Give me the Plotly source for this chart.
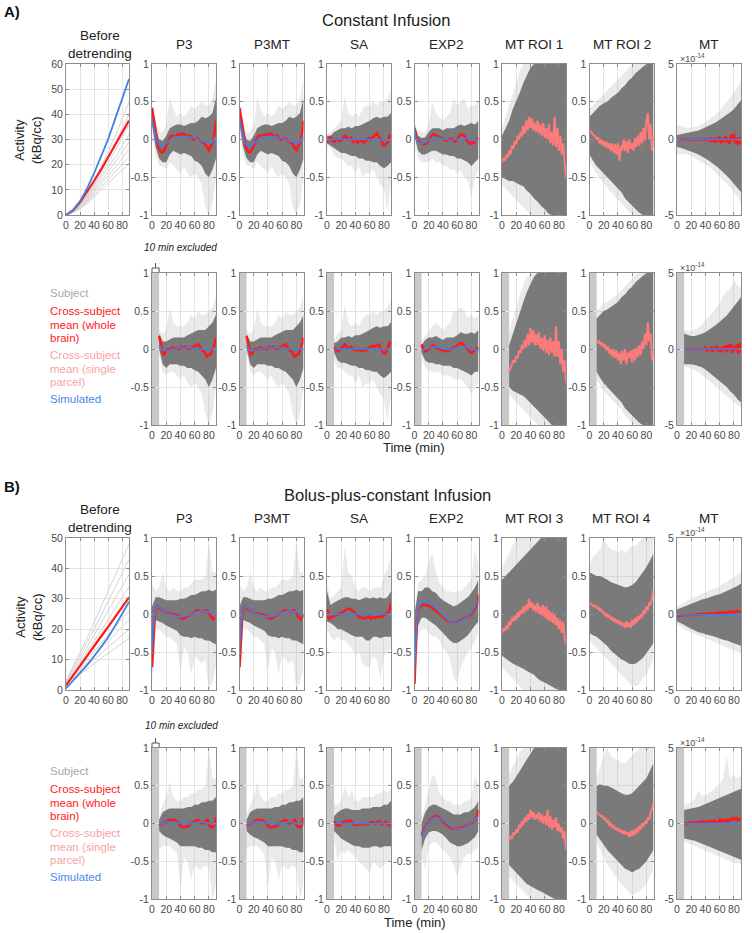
import plotly.graph_objects as go

W, H = 752, 933

# ---------------- time grids ----------------
T_FULL = [0, 5, 10, 15, 20, 25, 30, 35, 40, 45, 50, 55, 60, 65, 70, 75, 80, 85, 90]
T_CUT = [10, 15, 20, 25, 30, 35, 40, 45, 50, 55, 60, 65, 70, 75, 80, 85, 90]
T2_FULL = list(range(0, 91, 2))
T2_CUT = list(range(10, 91, 2))
T3_FULL = list(range(0, 91, 3))

# ---------------- Before detrending ----------------
A_BD_T = [0, 15, 30, 45, 60, 75, 90]
A_BD_SUBJECTS = [
    [0, 1.5, 4.5, 8.5, 12.5, 16.5, 20.5],
    [0, 1.6, 5, 9.5, 14, 18.5, 23],
    [0, 1.8, 5.5, 10.5, 15.5, 20.5, 26],
    [0, 2, 6, 11.5, 17, 23, 29],
    [0, 2, 6.5, 12.5, 18.5, 25, 32],
    [0, 2.2, 7, 13.5, 20.5, 28, 36],
    [0, 2.4, 7.5, 14.5, 22.5, 31, 40],
    [0, 2.6, 8, 16, 25, 34.5, 45],
]
A_BD_T10 = [0, 10, 20, 30, 40, 50, 60, 70, 80, 90]
A_BD_RED = [0, 1.8, 5, 9, 13.5, 18, 23, 28, 33, 37.5]
A_BD_BLUE = [0, 2, 5.5, 10.5, 16.5, 23, 30, 38, 46, 54]

B_BD_T = [0, 30, 60, 90]
B_BD_SUBJECTS = [
    [1, 7, 12, 17],
    [1.5, 8, 14, 20],
    [1.5, 9, 16, 23],
    [2, 10, 18, 26],
    [2, 11, 20.5, 30],
    [2.5, 12.5, 23, 34],
    [2.5, 14, 26, 38],
    [3, 15.5, 29, 43],
    [3, 17, 32.5, 48],
]
B_BD_T10 = [0, 10, 20, 30, 40, 50, 60, 70, 80, 90]
B_BD_RED = [1.5, 4.8, 8, 11.3, 14.5, 17.6, 20.7, 24, 27.2, 30.5]
B_BD_BLUE = [0.5, 3, 5.5, 8.2, 11, 14, 17.3, 21, 25, 29]

# ---------------- Panel A, row 1 ----------------
A1_P3_IN_HI = [0.40, 0.15, 0.00, -0.02, 0.05, 0.15, 0.18, 0.20, 0.20, 0.18, 0.20, 0.22, 0.22, 0.25, 0.30, 0.28, 0.30, 0.35, 0.55]
A1_P3_IN_LO = [0.20, -0.10, -0.25, -0.30, -0.30, -0.20, -0.15, -0.18, -0.20, -0.18, -0.20, -0.22, -0.28, -0.30, -0.35, -0.45, -0.50, -0.40, -0.25]
A1_P3_OUT_HI = [0.45, 0.25, 0.10, 0.10, 0.20, 0.55, 0.40, 0.30, 0.35, 0.30, 0.35, 0.45, 0.40, 0.45, 0.50, 0.45, 0.45, 0.55, 0.80]
A1_P3_OUT_LO = [0.10, -0.20, -0.35, -0.35, -0.40, -0.30, -0.35, -0.40, -0.45, -0.35, -0.45, -0.50, -0.45, -0.50, -0.60, -0.90, -1.00, -0.85, -0.50]
A1_P3_RED_T = [0, 2, 4, 6, 8, 10, 12, 14, 16, 18, 20, 23, 26, 29, 32, 35, 38, 41, 44, 47, 50, 53, 56, 59, 62, 65, 68, 71, 74, 77, 80, 83, 86, 88, 90]
A1_P3_RED = [0.42, 0.30, 0.15, 0.03, -0.06, -0.12, -0.16, -0.17, -0.16, -0.12, -0.08,
             -0.02, 0.04, 0.05, 0.04, 0.06, 0.07, 0.05, 0.08, 0.06, 0.04,
             0.05, 0.03, 0.00, 0.02, 0.01, -0.02, -0.03, -0.05, -0.10, -0.14,
             -0.08, -0.03, 0.08, 0.25]
A1_P3_BLUE_T = [0, 3, 6, 10, 14, 18, 22, 26, 30, 40, 50, 60, 70, 80, 85, 90]
A1_P3_BLUE = [0.27, 0.12, 0.00, -0.07, -0.09, -0.07, -0.03, 0.00, 0.03, 0.04, 0.04, 0.02, -0.02, -0.05, -0.04, 0.05]

A1_SA_IN_HI = [0.05, 0.05, 0.10, 0.12, 0.15, 0.15, 0.17, 0.15, 0.18, 0.18, 0.20, 0.22, 0.25, 0.28, 0.30, 0.28, 0.30, 0.30, 0.35]
A1_SA_IN_LO = [-0.05, -0.08, -0.12, -0.15, -0.18, -0.18, -0.20, -0.22, -0.22, -0.25, -0.25, -0.28, -0.28, -0.30, -0.30, -0.35, -0.38, -0.35, -0.30]
A1_SA_OUT_HI = [0.08, 0.10, 0.15, 0.20, 0.25, 0.58, 0.35, 0.30, 0.35, 0.30, 0.40, 0.45, 0.45, 0.50, 0.45, 0.50, 0.50, 0.55, 0.65]
A1_SA_OUT_LO = [-0.08, -0.12, -0.20, -0.25, -0.25, -0.30, -0.35, -0.35, -0.45, -0.35, -0.50, -0.45, -0.45, -0.40, -0.50, -0.60, -0.65, -0.95, -0.60]
A1_SA_RED_T = [0, 2, 4, 6, 8, 10, 14, 18, 22, 25, 28, 31, 34, 37, 40, 43, 46, 49, 52, 55, 58, 61, 64, 67, 70, 73, 76, 78, 80, 83, 86, 88, 90]
A1_SA_RED = [-0.04, 0.00, 0.03, 0.02, -0.02, -0.03,
             0.00, -0.02, 0.00, 0.05, 0.02,
             0.00, 0.02, -0.03, 0.00, -0.04, -0.02, -0.01,
             -0.04, -0.01, 0.02, 0.00, 0.03, 0.06, 0.08,
             0.03, 0.00, -0.06, -0.08, -0.06, -0.03, 0.05, 0.04]
A1_SA_BLUE_T = [0, 30, 60, 90]
A1_SA_BLUE = [0.0, 0.0, 0.0, -0.01]

A1_EXP2_IN_HI = [0.20, 0.05, 0.02, 0.03, 0.10, 0.15, 0.15, 0.15, 0.12, 0.15, 0.15, 0.15, 0.18, 0.20, 0.18, 0.20, 0.22, 0.20, 0.25]
A1_EXP2_IN_LO = [0.05, -0.15, -0.20, -0.20, -0.18, -0.15, -0.15, -0.18, -0.20, -0.20, -0.22, -0.22, -0.25, -0.25, -0.28, -0.30, -0.35, -0.30, -0.25]
A1_EXP2_OUT_HI = [0.25, 0.10, 0.10, 0.10, 0.20, 0.50, 0.35, 0.30, 0.25, 0.30, 0.35, 0.55, 0.45, 0.50, 0.55, 0.40, 0.45, 0.45, 0.50]
A1_EXP2_OUT_LO = [0.00, -0.25, -0.30, -0.30, -0.30, -0.25, -0.30, -0.30, -0.35, -0.35, -0.40, -0.40, -0.45, -0.40, -0.50, -0.55, -0.75, -0.50, -0.40]
A1_EXP2_RED_T = [0, 2, 5, 8, 12, 15, 18, 21, 24, 27, 30, 33, 36, 39, 42, 45, 48, 51, 54, 57, 60, 63, 66, 69, 72, 75, 78, 81, 84, 87, 90]
A1_EXP2_RED = [0.15, 0.05, -0.02, -0.04, -0.06, -0.06,
               -0.04, 0.00, 0.05, 0.07, 0.05, 0.04, 0.03, 0.02, 0.00, -0.02, -0.01, 0.01, 0.00,
               -0.03, 0.00, 0.05, 0.07, 0.06, 0.02, -0.03, -0.06, -0.04, -0.05, 0.00, 0.02]
A1_EXP2_BLUE_T = [0, 2, 5, 10, 15, 20, 25, 30, 40, 50, 60, 70, 80, 90]
A1_EXP2_BLUE = [0.15, 0.02, -0.04, -0.05, -0.04, -0.01, 0.02, 0.03, 0.01, -0.01, 0.00, 0.02, 0.00, -0.03]

A1_ROI1_IN_HI = [0.05, 0.15, 0.25, 0.40, 0.50, 0.62, 0.75, 0.85, 0.95, 1, 1, 1, 1, 1, 1, 1, 1, 1, 1]
A1_ROI1_IN_LO = [-0.50, -0.52, -0.55, -0.55, -0.58, -0.60, -0.62, -0.68, -0.72, -0.78, -0.82, -0.88, -0.92, -0.98, -1, -1, -1, -1, -1]
A1_ROI1_OUT_HI = [0.15, 0.30, 0.45, 0.60, 0.75, 0.90, 1, 1, 1, 1, 1, 1, 1, 1, 1, 1, 1, 1, 1]
A1_ROI1_OUT_LO = [-0.60, -0.65, -0.70, -0.75, -0.80, -0.85, -0.90, -0.95, -1, -1, -1, -1, -1, -1, -1, -1, -1, -1, -1]
A1_ROI1_PINK = [-0.30, -0.25, -0.28, -0.20, -0.24, -0.15, -0.20, -0.08, -0.12, -0.02,
                -0.06, 0.05, 0.00, 0.10, 0.04, 0.18, 0.08, 0.25, 0.12, 0.30,
                0.15, 0.28, 0.12, 0.22, 0.10, 0.25, 0.08, 0.20, 0.05, 0.22,
                0.02, 0.15, 0.00, 0.20, -0.05, 0.10, -0.08, 0.30, -0.10, 0.15,
                -0.15, 0.05, -0.20, -0.05, -0.30, -0.50]

A1_ROI2_IN_HI = [0.30, 0.35, 0.40, 0.45, 0.48, 0.50, 0.55, 0.58, 0.62, 0.68, 0.72, 0.78, 0.82, 0.88, 0.92, 0.96, 1, 1, 1]
A1_ROI2_IN_LO = [-0.20, -0.28, -0.35, -0.40, -0.45, -0.50, -0.55, -0.60, -0.65, -0.70, -0.78, -0.82, -0.88, -0.92, -0.97, -1, -1, -1, -1]
A1_ROI2_OUT_HI = [0.40, 0.45, 0.50, 0.55, 0.60, 0.65, 0.70, 0.75, 0.80, 0.85, 0.90, 0.95, 1, 1, 1, 1, 1, 1, 1]
A1_ROI2_OUT_LO = [-0.30, -0.38, -0.45, -0.52, -0.58, -0.64, -0.70, -0.75, -0.80, -0.85, -0.90, -0.95, -1, -1, -1, -1, -1, -1, -1]
A1_ROI2_PINK = [0.12, 0.10, 0.08, 0.05, 0.04, 0.00, 0.03, -0.05, 0.00, -0.08,
                -0.02, -0.10, -0.03, -0.12, -0.05, -0.15, -0.05, -0.18, -0.06, -0.20,
                -0.05, -0.28, -0.08, -0.15, 0.00, -0.15, -0.02, -0.18, 0.00, -0.12,
                -0.05, -0.15, 0.02, -0.10, 0.05, -0.08, 0.10, -0.05, 0.15, -0.02,
                0.25, 0.35, 0.00, 0.20, -0.15, 0.05]

A1_MT_IN_HI = [0.3, 0.35, 0.4, 0.45, 0.5, 0.55, 0.6, 0.7, 0.8, 0.9, 1.0, 1.15, 1.3, 1.45, 1.6, 1.8, 2.0, 2.3, 2.6]
A1_MT_IN_LO = [-0.5, -0.55, -0.6, -0.7, -0.8, -0.9, -1.0, -1.1, -1.25, -1.4, -1.55, -1.75, -1.95, -2.15, -2.4, -2.65, -2.9, -3.2, -3.5]
A1_MT_OUT_HI = [1.0, 0.9, 0.8, 0.75, 0.8, 0.85, 0.9, 1.0, 1.15, 1.3, 1.5, 1.7, 1.9, 2.2, 2.5, 2.8, 3.1, 3.5, 3.8]
A1_MT_OUT_LO = [-1.0, -0.95, -0.95, -1.0, -1.1, -1.2, -1.35, -1.5, -1.65, -1.8, -2.0, -2.2, -2.45, -2.7, -2.95, -3.2, -3.5, -3.8, -4.2]
A1_MT_RED = [0.0, 0.01, -0.01, 0.0, 0.01, -0.01, 0.0, 0.02, -0.01, 0.0, 0.01, -0.02, 0.0, 0.02, -0.01, 0.0, 0.02, -0.02, 0.01, 0.0, -0.03, 0.02, 0.0,
             -0.1, 0.1, -0.15, 0.05, -0.2, 0.1, -0.1, 0.2, -0.25, 0.05, -0.15, 0.25, -0.2, 0.1, -0.3, 0.3, -0.1, 0.4, -0.25, 0.1, -0.35, 0.15, -0.3]
A1_MT_BLUE_T = [0, 90]
A1_MT_BLUE = [0.0, 0.0]

# ---------------- Panel A, row 2 (first 10 min excluded) ----------------
A2_P3_IN_HI = [0.20, 0.10, 0.10, 0.12, 0.15, 0.15, 0.15, 0.15, 0.18, 0.20, 0.22, 0.25, 0.25, 0.25, 0.30, 0.35, 0.45]
A2_P3_IN_LO = [0.00, -0.20, -0.25, -0.20, -0.20, -0.20, -0.22, -0.22, -0.25, -0.25, -0.28, -0.30, -0.35, -0.40, -0.50, -0.40, -0.25]
A2_P3_OUT_HI = [0.25, 0.20, 0.25, 0.55, 0.35, 0.30, 0.30, 0.30, 0.35, 0.45, 0.40, 0.50, 0.45, 0.45, 0.50, 0.55, 0.70]
A2_P3_OUT_LO = [-0.05, -0.30, -0.35, -0.30, -0.30, -0.35, -0.40, -0.35, -0.45, -0.50, -0.45, -0.50, -0.60, -0.85, -1.00, -0.85, -0.50]
A2_P3_RED_T = [10, 12, 14, 16, 18, 20, 23, 26, 29, 32, 35, 38, 41, 44, 47, 50, 53, 56, 59, 62, 65, 68, 71, 74, 77, 80, 83, 86, 88, 90]
A2_P3_RED = [0.17, 0.08, -0.03, -0.08, -0.06, -0.02,
             0.00, -0.01, 0.02, 0.00, 0.02, 0.00, 0.03, 0.02, 0.03, 0.01, 0.00, 0.02, 0.03, 0.05, 0.06, 0.02,
             -0.02, -0.04, -0.10, -0.08, -0.06, 0.02, 0.06, 0.15]
A2_P3_BLUE_T = [10, 13, 16, 20, 30, 40, 50, 60, 70, 80, 90]
A2_P3_BLUE = [0.05, 0.00, -0.02, -0.02, 0.00, 0.02, 0.02, 0.01, 0.00, -0.01, 0.02]

A2_SA_IN_HI = [0.08, 0.10, 0.15, 0.15, 0.17, 0.15, 0.18, 0.18, 0.20, 0.22, 0.25, 0.28, 0.30, 0.28, 0.30, 0.30, 0.35]
A2_SA_IN_LO = [-0.05, -0.15, -0.18, -0.18, -0.20, -0.22, -0.22, -0.25, -0.25, -0.28, -0.28, -0.30, -0.30, -0.35, -0.38, -0.35, -0.30]
A2_SA_OUT_HI = [0.12, 0.20, 0.25, 0.58, 0.35, 0.30, 0.35, 0.30, 0.40, 0.45, 0.45, 0.50, 0.45, 0.50, 0.50, 0.55, 0.65]
A2_SA_OUT_LO = [-0.15, -0.25, -0.25, -0.30, -0.35, -0.35, -0.45, -0.35, -0.50, -0.45, -0.45, -0.40, -0.50, -0.60, -0.65, -0.95, -0.60]
A2_SA_RED_T = [10, 13, 16, 19, 22, 25, 28, 31, 34, 37, 40, 43, 46, 49, 52, 55, 58, 61, 64, 67, 70, 73, 76, 79, 82, 85, 88, 90]
A2_SA_RED = [0.02, -0.02, -0.03, 0.00, 0.02, 0.06, 0.03, 0.01, 0.03, -0.01, 0.00, -0.02, 0.00, -0.03,
             -0.01, -0.02, 0.01, 0.02, 0.04, 0.03, 0.05, 0.06, 0.00, -0.05, -0.06, 0.00, 0.08, 0.06]
A2_SA_BLUE_T = [10, 50, 90]
A2_SA_BLUE = [0.0, 0.0, 0.0]

A2_EXP2_IN_HI = [0.05, 0.12, 0.15, 0.15, 0.17, 0.15, 0.12, 0.15, 0.15, 0.15, 0.18, 0.22, 0.20, 0.20, 0.22, 0.20, 0.25]
A2_EXP2_IN_LO = [-0.05, -0.15, -0.18, -0.18, -0.20, -0.20, -0.22, -0.22, -0.22, -0.25, -0.25, -0.28, -0.30, -0.32, -0.35, -0.30, -0.30]
A2_EXP2_OUT_HI = [0.10, 0.18, 0.25, 0.30, 0.35, 0.30, 0.25, 0.30, 0.35, 0.50, 0.50, 0.55, 0.50, 0.40, 0.45, 0.40, 0.45]
A2_EXP2_OUT_LO = [-0.10, -0.25, -0.28, -0.30, -0.30, -0.30, -0.35, -0.35, -0.35, -0.40, -0.40, -0.40, -0.45, -0.50, -0.60, -0.50, -0.45]
A2_EXP2_RED_T = [10, 12, 15, 18, 21, 24, 27, 30, 33, 36, 39, 42, 45, 48, 51, 54, 57, 60, 63, 66, 69, 72, 75, 78, 81, 84, 87, 90]
A2_EXP2_RED = [0.06, 0.00, -0.03, -0.02, 0.00, 0.04, 0.05, 0.02, 0.01, 0.00, -0.01, -0.03, -0.02, -0.03,
               0.00, 0.01, 0.02, 0.04, 0.07, 0.08, 0.05, 0.03, 0.00, -0.04, -0.05, -0.02, 0.00, 0.02]
A2_EXP2_BLUE_T = [10, 15, 20, 25, 30, 40, 50, 60, 70, 80, 90]
A2_EXP2_BLUE = [-0.02, 0.00, 0.02, 0.03, 0.03, 0.00, -0.01, 0.02, 0.03, 0.00, -0.03]

A2_ROI1_IN_HI = [0.05, 0.20, 0.35, 0.50, 0.62, 0.75, 0.85, 0.95, 1, 1, 1, 1, 1, 1, 1, 1, 1]
A2_ROI1_IN_LO = [-0.50, -0.55, -0.58, -0.60, -0.62, -0.66, -0.70, -0.75, -0.80, -0.85, -0.90, -0.95, -1, -1, -1, -1, -1]
A2_ROI1_OUT_HI = [0.20, 0.40, 0.55, 0.70, 0.85, 0.95, 1, 1, 1, 1, 1, 1, 1, 1, 1, 1, 1]
A2_ROI1_OUT_LO = [-0.60, -0.65, -0.70, -0.75, -0.80, -0.85, -0.90, -0.95, -1, -1, -1, -1, -1, -1, -1, -1, -1]
A2_ROI1_PINK = [-0.30, -0.25, -0.22, -0.15, -0.18, -0.10, -0.12, -0.02, -0.05, 0.05,
                0.00, 0.12, 0.02, 0.20, 0.05, 0.28, 0.08, 0.25, 0.05, 0.20,
                0.05, 0.22, 0.00, 0.15, -0.02, 0.18, -0.05, 0.12, -0.08, 0.15,
                -0.05, 0.10, -0.10, 0.30, -0.10, 0.10, -0.20, 0.00, -0.30, -0.15,
                -0.45]

A2_ROI2_IN_HI = [0.40, 0.45, 0.50, 0.52, 0.55, 0.58, 0.62, 0.68, 0.72, 0.78, 0.82, 0.88, 0.92, 0.96, 1, 1, 1]
A2_ROI2_IN_LO = [-0.30, -0.38, -0.45, -0.50, -0.55, -0.60, -0.65, -0.70, -0.78, -0.82, -0.88, -0.92, -0.97, -1, -1, -1, -1]
A2_ROI2_OUT_HI = [0.50, 0.55, 0.60, 0.62, 0.65, 0.68, 0.72, 0.78, 0.82, 0.88, 0.92, 0.98, 1, 1, 1, 1, 1]
A2_ROI2_OUT_LO = [-0.40, -0.48, -0.55, -0.60, -0.65, -0.70, -0.75, -0.80, -0.88, -0.92, -0.98, -1, -1, -1, -1, -1, -1]
A2_ROI2_PINK = [0.10, 0.08, 0.10, 0.05, 0.08, 0.02, 0.06, -0.02, 0.03, -0.06,
                0.00, -0.10, 0.00, -0.12, -0.02, -0.15, -0.05, -0.20, -0.02, -0.15,
                0.00, -0.20, -0.05, -0.12, -0.02, -0.18, 0.00, -0.15, 0.02, -0.10,
                0.05, -0.08, 0.10, 0.00, 0.20, 0.05, 0.35, 0.10, 0.20, -0.15,
                0.00]

A2_MT_IN_HI = [1.0, 0.9, 0.85, 0.85, 0.9, 1.0, 1.1, 1.25, 1.4, 1.6, 1.8, 2.0, 2.2, 2.5, 2.8, 3.1, 3.4]
A2_MT_IN_LO = [-1.0, -1.0, -1.0, -1.05, -1.1, -1.2, -1.35, -1.5, -1.7, -1.9, -2.1, -2.3, -2.5, -2.8, -3.0, -3.3, -3.5]
A2_MT_OUT_HI = [1.2, 1.2, 1.2, 1.3, 1.4, 1.6, 1.9, 2.1, 2.4, 2.7, 3.0, 3.5, 3.8, 4.0, 4.5, 4.2, 4.0]
A2_MT_OUT_LO = [-1.2, -1.2, -1.3, -1.4, -1.5, -1.7, -1.9, -2.1, -2.3, -2.5, -2.7, -2.9, -3.1, -3.3, -3.5, -3.7, -3.8]
A2_MT_RED = [0.0, 0.02, -0.01, 0.0, 0.02, -0.02, 0.01, 0.0, -0.02, 0.02, 0.0, -0.01, 0.03, -0.02, 0.01,
             0.1, -0.15, 0.05, -0.1, 0.15, -0.2, 0.1, -0.05, 0.2, -0.15, 0.1, -0.2, 0.15, -0.1, 0.25, -0.2,
             0.3, -0.1, 0.35, -0.25, 0.2, -0.1, 0.3, -0.3, 0.4, -0.2]
A2_MT_BLUE_T = [10, 90]
A2_MT_BLUE = [0.0, 0.0]

# ---------------- Panel B, row 1 ----------------
B1_P3_IN_HI = [0.10, 0.22, 0.22, 0.20, 0.18, 0.18, 0.18, 0.18, 0.20, 0.20, 0.22, 0.25, 0.25, 0.28, 0.30, 0.30, 0.32, 0.30, 0.32]
B1_P3_IN_LO = [-0.50, -0.08, -0.10, -0.12, -0.15, -0.18, -0.20, -0.22, -0.28, -0.30, -0.30, -0.32, -0.30, -0.32, -0.32, -0.35, -0.35, -0.38, -0.40]
B1_P3_OUT_HI = [0.40, 0.30, 0.35, 0.55, 0.35, 0.30, 0.35, 0.30, 0.30, 0.35, 0.35, 0.40, 0.45, 0.45, 0.45, 0.50, 0.95, 0.55, 0.55]
B1_P3_OUT_LO = [-0.95, -0.20, -0.20, -0.25, -0.30, -0.30, -0.35, -0.40, -0.75, -0.45, -0.50, -0.80, -0.55, -0.60, -0.65, -0.60, -1.00, -0.90, -0.70]
B1_P3_RED_T = [0, 1, 2, 3, 4, 6, 8, 10, 13, 16, 20, 24, 28, 32, 36, 40, 44, 48, 52, 56, 60, 64, 68, 72, 76, 80, 83, 86, 88, 90]
B1_P3_RED = [-0.70, -0.55, -0.30, -0.10, 0.00, 0.08, 0.10, 0.08,
             0.06, 0.04,
             0.02, 0.01, 0.00, 0.00, -0.02, -0.05, -0.06, -0.04, -0.02, 0.00, 0.03, 0.05, 0.04, 0.03, 0.05, 0.02,
             -0.04, -0.07, -0.04, 0.00]
B1_P3_BLUE_T = [0, 1, 2, 4, 7, 10, 15, 20, 30, 40, 50, 60, 70, 80, 90]
B1_P3_BLUE = [-0.48, -0.30, -0.15, 0.02, 0.10, 0.09, 0.05, 0.02, -0.02, -0.04, -0.02, 0.02, 0.04, 0.03, -0.04]

B1_SA_IN_HI = [0.30, 0.12, 0.15, 0.18, 0.20, 0.22, 0.22, 0.20, 0.20, 0.18, 0.20, 0.22, 0.20, 0.22, 0.20, 0.22, 0.20, 0.22, 0.30]
B1_SA_IN_LO = [-0.10, -0.12, -0.15, -0.20, -0.20, -0.22, -0.25, -0.28, -0.30, -0.30, -0.30, -0.35, -0.35, -0.30, -0.30, -0.32, -0.30, -0.30, -0.30]
B1_SA_OUT_HI = [0.40, 0.20, 0.25, 0.30, 0.35, 0.90, 0.55, 0.50, 0.35, 0.30, 0.35, 0.35, 0.30, 0.35, 0.35, 0.35, 0.50, 0.60, 0.75]
B1_SA_OUT_LO = [-0.20, -0.30, -0.35, -0.30, -0.35, -0.35, -0.40, -0.45, -0.55, -0.50, -0.65, -0.70, -0.70, -0.55, -0.60, -0.85, -0.55, -0.50, -0.45]
B1_SA_RED_T = [0, 1, 2, 3, 5, 8, 11, 14, 17, 20, 23, 26, 29, 32, 35, 38, 41, 44, 47, 50, 53, 56, 59, 62, 65, 68, 71, 74, 77, 80, 83, 86, 88, 90]
B1_SA_RED = [-0.05, 0.06, -0.02, -0.06, -0.05,
             -0.03, -0.02, -0.01, 0.00, 0.01, 0.03, 0.05, 0.07, 0.07, 0.05, 0.02, 0.00, -0.03, -0.05,
             -0.05, -0.06, -0.04, -0.03, -0.06, -0.04, -0.05, -0.04, -0.03, -0.04, -0.02, 0.00, 0.03,
             0.05, 0.15]
B1_SA_BLUE_T = [0, 30, 60, 90]
B1_SA_BLUE = [-0.01, 0.0, 0.0, 0.0]

B1_EXP2_IN_HI = [0.00, 0.30, 0.30, 0.35, 0.35, 0.30, 0.28, 0.22, 0.18, 0.15, 0.12, 0.10, 0.12, 0.15, 0.18, 0.22, 0.28, 0.35, 0.45]
B1_EXP2_IN_LO = [-0.85, -0.15, -0.05, -0.05, -0.08, -0.12, -0.15, -0.20, -0.25, -0.30, -0.35, -0.38, -0.38, -0.35, -0.32, -0.28, -0.22, -0.15, -0.10]
B1_EXP2_OUT_HI = [0.05, 0.40, 0.45, 0.50, 0.70, 0.80, 0.55, 0.40, 0.35, 0.30, 0.30, 0.28, 0.30, 0.30, 0.35, 0.40, 0.45, 0.85, 0.65]
B1_EXP2_OUT_LO = [-0.95, -0.30, -0.20, -0.20, -0.25, -0.30, -0.30, -0.35, -0.45, -0.50, -0.60, -0.85, -0.90, -0.70, -0.60, -0.50, -0.45, -0.35, -0.25]
B1_EXP2_RED_T = [0, 1, 2, 3, 4, 6, 8, 10, 13, 16, 20, 24, 28, 32, 36, 40, 44, 48, 52, 56, 60, 64, 68, 72, 76, 80, 83, 86, 88, 90]
B1_EXP2_RED = [-0.92, -0.60, -0.30, -0.12, -0.02, 0.07, 0.10, 0.12,
               0.12, 0.12,
               0.11, 0.09, 0.06, 0.03, 0.00, -0.04, -0.07, -0.10, -0.11, -0.12, -0.11, -0.09, -0.08, -0.06, -0.03, 0.00,
               0.04, 0.08, 0.12, 0.25]
B1_EXP2_BLUE_T = [0, 1, 2, 3, 5, 8, 11, 15, 20, 25, 30, 35, 40, 45, 50, 55, 60, 65, 70, 75, 80, 85, 90]
B1_EXP2_BLUE = [-0.75, -0.45, -0.25, -0.10, 0.05, 0.13, 0.16,
                0.17, 0.15, 0.12, 0.08, 0.03, -0.02, -0.06, -0.10, -0.12, -0.12, -0.10, -0.07, -0.03, 0.02, 0.10, 0.20]

B1_ROI3_IN_HI = [0.45, 0.50, 0.55, 0.60, 0.65, 0.70, 0.75, 0.80, 0.85, 0.90, 0.95, 1, 1, 1, 1, 1, 1, 1, 1]
B1_ROI3_IN_LO = [-0.55, -0.58, -0.62, -0.65, -0.68, -0.70, -0.72, -0.75, -0.78, -0.80, -0.85, -0.88, -0.90, -0.92, -0.95, -0.98, -1, -1, -1]
B1_ROI3_OUT_HI = [0.60, 0.70, 0.80, 0.90, 1, 1, 1, 1, 1, 1, 1, 1, 1, 1, 1, 1, 1, 1, 1]
B1_ROI3_OUT_LO = [-0.70, -0.75, -0.80, -0.85, -0.90, -0.95, -1, -1, -1, -1, -1, -1, -1, -1, -1, -1, -1, -1, -1]
B1_ROI3_PINK = [-0.25, -0.20, -0.22, -0.15, -0.20, -0.10, -0.15, -0.05, -0.10, -0.02,
                -0.08, 0.02, -0.04, 0.05, 0.00, 0.10, 0.02, 0.12, 0.05, 0.20,
                0.08, 0.15, 0.05, 0.12, 0.02, 0.15, 0.00, 0.10, -0.02, 0.12,
                -0.05, 0.10, -0.08, 0.05, -0.10, 0.02, -0.12, 0.00, -0.15, -0.05,
                -0.20, -0.08, -0.25, -0.10, -0.30, -0.40]

B1_ROI4_IN_HI = [0.55, 0.52, 0.50, 0.50, 0.48, 0.45, 0.42, 0.40, 0.38, 0.36, 0.35, 0.36, 0.38, 0.42, 0.48, 0.55, 0.62, 0.70, 0.80]
B1_ROI4_IN_LO = [-0.25, -0.28, -0.30, -0.33, -0.38, -0.42, -0.48, -0.52, -0.56, -0.60, -0.62, -0.65, -0.66, -0.65, -0.62, -0.58, -0.52, -0.45, -0.38]
B1_ROI4_OUT_HI = [0.65, 0.75, 0.80, 0.85, 1.00, 0.90, 0.85, 0.85, 0.80, 0.85, 0.80, 0.85, 0.90, 0.90, 0.95, 1, 1, 1, 1]
B1_ROI4_OUT_LO = [-0.35, -0.40, -0.45, -0.50, -0.55, -0.60, -0.65, -0.70, -0.75, -0.80, -0.85, -0.90, -0.95, -0.95, -0.92, -0.85, -0.80, -0.70, -0.60]
B1_ROI4_PINK = [0.15, 0.13, 0.12, 0.10, 0.11, 0.08, 0.09, 0.05, 0.06, 0.02,
                0.03, -0.02, 0.00, -0.04, -0.02, -0.07, -0.04, -0.10, -0.06, -0.12,
                -0.08, -0.14, -0.10, -0.16, -0.12, -0.18, -0.10, -0.17, -0.12, -0.18,
                -0.08, -0.15, -0.05, -0.12, -0.03, -0.08, 0.00, -0.05, 0.05, 0.00,
                0.10, 0.05, 0.15, 0.12, 0.22, 0.32]

B1_MT_IN_HI = [0.3, 0.4, 0.5, 0.6, 0.7, 0.8, 0.85, 0.95, 1.0, 1.1, 1.15, 1.25, 1.3, 1.4, 1.5, 1.6, 1.7, 1.85, 2.0]
B1_MT_IN_LO = [-0.5, -0.6, -0.7, -0.85, -1.0, -1.1, -1.2, -1.25, -1.3, -1.4, -1.45, -1.5, -1.6, -1.7, -1.75, -1.85, -1.9, -2.0, -2.1]
B1_MT_OUT_HI = [0.5, 0.6, 0.75, 0.9, 1.0, 1.1, 1.2, 1.3, 1.4, 1.5, 1.6, 1.7, 1.85, 2.0, 2.1, 2.3, 2.4, 2.6, 2.8]
B1_MT_OUT_LO = [-0.7, -0.8, -1.0, -1.1, -1.2, -1.3, -1.4, -1.5, -1.6, -1.7, -1.8, -1.9, -2.0, -2.1, -2.2, -2.3, -2.4, -2.5, -2.6]
B1_MT_RED = [-0.10, -0.12, -0.08, -0.10, -0.06, -0.09, -0.05, -0.08, -0.03, -0.06, 0.00, -0.05, 0.02, -0.03, 0.04, -0.01,
             0.05, 0.00, 0.08, 0.02, 0.10, 0.04, 0.12, 0.05, 0.15, 0.08, 0.18, 0.10, 0.22, 0.12, 0.18]
B1_MT_BLUE_T = [0, 90]
B1_MT_BLUE = [-0.05, -0.05]

# ---------------- Panel B, row 2 (first 10 min excluded) ----------------
B2_P3_IN_HI = [0.05, 0.15, 0.18, 0.20, 0.20, 0.20, 0.20, 0.20, 0.22, 0.22, 0.25, 0.25, 0.28, 0.28, 0.30, 0.30, 0.35]
B2_P3_IN_LO = [-0.10, -0.15, -0.18, -0.20, -0.22, -0.25, -0.30, -0.30, -0.30, -0.30, -0.30, -0.32, -0.32, -0.35, -0.35, -0.38, -0.38]
B2_P3_OUT_HI = [0.10, 0.25, 0.35, 0.55, 0.35, 0.30, 0.30, 0.35, 0.35, 0.40, 0.40, 0.45, 0.45, 0.50, 1.00, 0.60, 0.60]
B2_P3_OUT_LO = [-0.35, -0.30, -0.30, -0.30, -0.35, -0.40, -0.85, -0.45, -0.50, -0.75, -0.55, -0.60, -0.60, -0.55, -0.60, -1.00, -0.80]
B2_P3_RED_T = [10, 13, 16, 19, 22, 25, 28, 31, 34, 37, 40, 43, 46, 49, 52, 55, 58, 61, 64, 67, 70, 73, 76, 78, 80, 82, 85, 88, 90]
B2_P3_RED = [-0.03, -0.02, 0.00, 0.02, 0.03, 0.05, 0.04, 0.05, 0.03, 0.01, -0.03, -0.05, -0.05, -0.04, -0.03, 0.00,
             0.02, 0.04, 0.05, 0.03, 0.00, 0.01, 0.03,
             0.06, -0.02, -0.04, -0.05, -0.02, 0.08]
B2_P3_BLUE_T = [10, 20, 30, 40, 50, 60, 70, 80, 90]
B2_P3_BLUE = [-0.02, 0.02, 0.02, 0.00, -0.01, 0.01, 0.02, 0.00, -0.01]

B2_SA_IN_HI = [0.10, 0.15, 0.18, 0.20, 0.20, 0.18, 0.18, 0.18, 0.20, 0.20, 0.20, 0.22, 0.22, 0.22, 0.25, 0.25, 0.30]
B2_SA_IN_LO = [-0.10, -0.15, -0.20, -0.22, -0.25, -0.28, -0.30, -0.30, -0.32, -0.32, -0.32, -0.30, -0.30, -0.32, -0.30, -0.30, -0.30]
B2_SA_OUT_HI = [0.25, 0.25, 0.30, 0.50, 0.35, 0.45, 0.30, 0.30, 0.35, 0.35, 0.35, 0.35, 0.40, 0.40, 0.45, 0.40, 0.45]
B2_SA_OUT_LO = [-0.20, -0.50, -0.35, -0.40, -0.35, -0.40, -0.45, -0.50, -0.55, -0.60, -0.65, -0.50, -0.55, -0.60, -0.55, -0.50, -0.50]
B2_SA_RED_T = [10, 12, 14, 17, 20, 23, 26, 29, 32, 35, 38, 41, 44, 47, 50, 53, 56, 59, 62, 65, 68, 71, 74, 77, 80, 83, 86, 88, 90]
B2_SA_RED = [0.03, 0.00, -0.02,
             -0.03, 0.00, 0.02, 0.03, 0.03, 0.04, 0.02, -0.02, -0.02, -0.01, -0.02, -0.01, 0.00, -0.01, 0.00,
             0.02, 0.01, 0.00, 0.02, 0.03, -0.01, 0.01, 0.02, -0.02,
             0.00, -0.03]
B2_SA_BLUE_T = [10, 50, 90]
B2_SA_BLUE = [0.0, 0.0, 0.0]

B2_EXP2_IN_HI = [0.00, 0.15, 0.22, 0.25, 0.25, 0.22, 0.20, 0.18, 0.15, 0.12, 0.12, 0.12, 0.15, 0.15, 0.18, 0.22, 0.30]
B2_EXP2_IN_LO = [-0.35, -0.20, -0.12, -0.10, -0.10, -0.12, -0.15, -0.20, -0.25, -0.28, -0.30, -0.30, -0.28, -0.26, -0.22, -0.18, -0.10]
B2_EXP2_OUT_HI = [0.05, 0.25, 0.45, 0.65, 0.60, 0.40, 0.35, 0.30, 0.30, 0.25, 0.25, 0.25, 0.30, 0.30, 0.35, 0.65, 0.50]
B2_EXP2_OUT_LO = [-0.45, -0.60, -0.30, -0.25, -0.25, -0.30, -0.35, -0.40, -0.45, -0.55, -0.70, -0.55, -0.45, -0.40, -0.40, -0.35, -0.30]
B2_EXP2_RED_T = [10, 12, 14, 16, 18, 20, 23, 26, 29, 32, 35, 38, 41, 44, 47, 50, 53, 56, 59, 62, 65, 68, 71, 74, 77, 80, 83, 86, 88, 90]
B2_EXP2_RED = [-0.15, -0.10, -0.06, -0.03, 0.00, 0.03,
               0.06, 0.08, 0.10, 0.10, 0.08, 0.05, 0.02, -0.01, -0.03, -0.05, -0.06, -0.07, -0.06, -0.07, -0.05,
               -0.06, -0.04, -0.03, -0.02, 0.00, 0.03, 0.05,
               0.10, 0.18]
B2_EXP2_BLUE_T = [10, 13, 16, 20, 25, 30, 35, 40, 45, 50, 55, 60, 65, 70, 75, 80, 85, 90]
B2_EXP2_BLUE = [-0.17, -0.10, -0.04,
                0.02, 0.06, 0.08, 0.07, 0.04, 0.00, -0.03, -0.06, -0.07, -0.07, -0.06, -0.03, 0.00, 0.05, 0.10]

B2_ROI3_IN_HI = [0.50, 0.55, 0.62, 0.70, 0.78, 0.85, 0.92, 1, 1, 1, 1, 1, 1, 1, 1, 1, 1]
B2_ROI3_IN_LO = [-0.55, -0.60, -0.65, -0.70, -0.75, -0.80, -0.82, -0.85, -0.88, -0.90, -0.92, -0.95, -0.98, -1, -1, -1, -1]
B2_ROI3_OUT_HI = [0.65, 0.75, 0.85, 0.95, 1, 1, 1, 1, 1, 1, 1, 1, 1, 1, 1, 1, 1]
B2_ROI3_OUT_LO = [-0.70, -0.75, -0.80, -0.85, -0.90, -0.95, -1, -1, -1, -1, -1, -1, -1, -1, -1, -1, -1]
B2_ROI3_PINK = [-0.22, -0.18, -0.20, -0.12, -0.15, -0.08, -0.12, -0.02, -0.06, 0.03,
                -0.02, 0.08, 0.02, 0.12, 0.05, 0.18, 0.08, 0.15, 0.05, 0.12,
                0.06, 0.15, 0.02, 0.12, 0.00, 0.10, -0.02, 0.18, -0.05, 0.10,
                -0.08, 0.05, -0.05, 0.08, -0.10, 0.00, -0.12, -0.05, -0.20, -0.10,
                -0.35]

B2_ROI4_IN_HI = [0.50, 0.52, 0.50, 0.50, 0.48, 0.45, 0.42, 0.40, 0.38, 0.38, 0.40, 0.45, 0.50, 0.55, 0.60, 0.70, 0.80]
B2_ROI4_IN_LO = [-0.15, -0.22, -0.28, -0.35, -0.40, -0.45, -0.50, -0.55, -0.60, -0.62, -0.65, -0.62, -0.60, -0.55, -0.50, -0.42, -0.35]
B2_ROI4_OUT_HI = [0.60, 0.75, 0.90, 1.00, 0.90, 0.85, 0.85, 0.80, 0.80, 0.85, 0.90, 0.95, 1, 1, 1, 1, 1]
B2_ROI4_OUT_LO = [-0.25, -0.35, -0.45, -0.55, -0.60, -0.68, -0.75, -0.80, -0.85, -0.90, -0.95, -0.92, -0.90, -0.85, -0.80, -0.70, -0.60]
B2_ROI4_PINK = [0.15, 0.13, 0.12, 0.10, 0.10, 0.06, 0.07, 0.02, 0.04, -0.02,
                0.00, -0.05, -0.03, -0.08, -0.05, -0.10, -0.07, -0.12, -0.09, -0.14,
                -0.10, -0.15, -0.12, -0.18, -0.10, -0.17, -0.08, -0.15, -0.06, -0.12,
                -0.03, -0.08, 0.00, -0.04, 0.03, 0.00, 0.08, 0.05, 0.15, 0.20,
                0.28]

B2_MT_IN_HI = [0.9, 0.95, 1.0, 1.05, 1.1, 1.2, 1.3, 1.4, 1.5, 1.6, 1.7, 1.8, 1.9, 2.0, 2.1, 2.2, 2.3]
B2_MT_IN_LO = [-1.0, -1.05, -1.1, -1.15, -1.2, -1.3, -1.4, -1.5, -1.6, -1.7, -1.8, -1.9, -2.0, -2.1, -2.2, -2.3, -2.4]
B2_MT_OUT_HI = [1.2, 1.3, 1.4, 1.6, 2.2, 1.8, 1.9, 2.0, 2.2, 2.5, 2.6, 3.0, 4.5, 3.0, 3.2, 3.0, 3.2]
B2_MT_OUT_LO = [-1.2, -1.3, -1.4, -1.5, -1.6, -1.7, -1.8, -1.9, -2.0, -2.1, -2.2, -2.3, -2.4, -2.5, -2.6, -2.6, -2.7]
B2_MT_RED = [0.00, 0.03, 0.00, 0.05, 0.02, 0.06, 0.03, 0.08, 0.04, 0.10,
             0.05, 0.12, 0.06, 0.15, 0.05, 0.12, 0.08, 0.18, 0.10, 0.15,
             0.08, 0.20, 0.12, 0.15, 0.10, 0.25, 0.12, 0.30, 0.15, 0.20,
             0.12, 0.25, 0.15, 0.35, 0.20, 0.40, 0.25, 0.35, 0.20, 0.30,
             0.25]
B2_MT_BLUE_T = [10, 90]
B2_MT_BLUE = [0.0, 0.0]

TITLES_A = ["Before<br>detrending", "P3", "P3MT", "SA", "EXP2", "MT ROI 1", "MT ROI 2", "MT"]
TITLES_B = ["Before<br>detrending", "P3", "P3MT", "SA", "EXP2", "MT ROI 3", "MT ROI 4", "MT"]
X_TICKS = [0, 20, 40, 60, 80]

# ---------------- styling ----------------
FONT = "Liberation Sans, Arial, sans-serif"
C_RED = "#ff1a1a"
C_PINK = "#ff7b7b"
C_BLUE = "#3f80e8"
C_IN = "rgba(112,112,112,0.92)"
C_OUT = "rgba(175,175,175,0.26)"
C_AX = "#8c8c8c"
C_TICK = "#4a4a4a"

ROWS = {"A1": (64, 215), "A2": (273, 425), "B1": (538, 690), "B2": (748, 899)}


def col_x(c):
    if c == 0:
        return 66, 129
    l = 152 + 87.5 * (c - 1)
    return l, l + 64


fig = go.Figure()
layout = {}
shapes = []
annotations = []
counter = [0]


def px(x):
    return x / W


def py(y):
    return 1 - y / H


def new_axis(row, col, yrange, yticks, ytext, cut=False):
    counter[0] += 1
    n = counter[0]
    s = "" if n == 1 else str(n)
    t, b = ROWS[row]
    l, r = col_x(col)
    common = dict(showgrid=True, gridcolor="#e4e4e4", gridwidth=1, showline=True,
                  linecolor=C_AX, linewidth=1, mirror="ticks", ticks="inside", ticklen=3,
                  tickcolor=C_AX, tickfont=dict(family=FONT, size=10.5, color=C_TICK),
                  zeroline=False, fixedrange=True, automargin=False, tickangle=0)
    layout["xaxis" + s] = dict(domain=[px(l), px(r)], anchor="y" + s, range=[0, 90],
                               tickvals=X_TICKS, **common)
    layout["yaxis" + s] = dict(domain=[py(b), py(t)], anchor="x" + s, range=yrange,
                               tickvals=yticks, ticktext=ytext, **common)
    if cut:
        shapes.append(dict(type="rect", xref="x" + s, yref="y" + s + " domain",
                           x0=0, x1=10, y0=0, y1=1, fillcolor="#c9c9c9",
                           line=dict(width=0), layer="below"))
    return s


def band(s, t, lo, hi, color):
    fig.add_trace(go.Scatter(x=list(t) + list(t)[::-1], y=list(hi) + list(lo)[::-1],
                             fill="toself", fillcolor=color, mode="lines",
                             line=dict(width=0), xaxis="x" + s, yaxis="y" + s,
                             hoverinfo="skip", showlegend=False))


def line(s, t, y, color, width):
    fig.add_trace(go.Scatter(x=t, y=y, mode="lines", line=dict(color=color, width=width),
                             xaxis="x" + s, yaxis="y" + s, hoverinfo="skip", showlegend=False))


UNIT = [-1, -0.5, 0, 0.5, 1]
UNIT_TXT = ["-1", "-0.5", "0", "0.5", "1"]
MT_T = [-5, 0, 5]
MT_TXT = ["-5", "0", "5"]


def std_panel(row, col, t, out_lo, out_hi, in_lo, in_hi, red_t, red, blue_t, blue, cut):
    s = new_axis(row, col, [-1, 1], UNIT, UNIT_TXT, cut)
    band(s, t, out_lo, out_hi, C_OUT)
    band(s, t, in_lo, in_hi, C_IN)
    line(s, red_t, red, C_RED, 2.6)
    line(s, blue_t, blue, C_BLUE, 1.6)


def roi_panel(row, col, t, out_lo, out_hi, in_lo, in_hi, pink_t, pink, cut):
    s = new_axis(row, col, [-1, 1], UNIT, UNIT_TXT, cut)
    band(s, t, out_lo, out_hi, C_OUT)
    band(s, t, in_lo, in_hi, C_IN)
    line(s, pink_t, pink, C_PINK, 2.0)


def mt_panel(row, col, t, out_lo, out_hi, in_lo, in_hi, red_t, red, blue_t, blue, cut):
    s = new_axis(row, col, [-5, 5], MT_T, MT_TXT, cut)
    band(s, t, out_lo, out_hi, C_OUT)
    band(s, t, in_lo, in_hi, C_IN)
    line(s, red_t, red, C_RED, 2.4)
    line(s, blue_t, blue, C_BLUE, 1.6)
    l, r = col_x(col)
    top = ROWS[row][0]
    annotations.append(dict(text="×10<sup>-14</sup>", x=px(l + 1), y=py(top + 2), xref="paper",
                            yref="paper", xanchor="left", yanchor="bottom", showarrow=False,
                            font=dict(family=FONT, size=9, color=C_TICK)))


# ----- Panel A row 1 -----
s = new_axis("A1", 0, [0, 60], [0, 10, 20, 30, 40, 50, 60], None)
for subj in A_BD_SUBJECTS:
    line(s, A_BD_T, subj, "#d4d4d4", 1)
line(s, A_BD_T10, A_BD_RED, C_RED, 2.2)
line(s, A_BD_T10, A_BD_BLUE, C_BLUE, 1.8)
std_panel("A1", 1, T_FULL, A1_P3_OUT_LO, A1_P3_OUT_HI, A1_P3_IN_LO, A1_P3_IN_HI, A1_P3_RED_T, A1_P3_RED, A1_P3_BLUE_T, A1_P3_BLUE, False)
std_panel("A1", 2, T_FULL, A1_P3_OUT_LO, A1_P3_OUT_HI, A1_P3_IN_LO, A1_P3_IN_HI, A1_P3_RED_T, A1_P3_RED, A1_P3_BLUE_T, A1_P3_BLUE, False)
std_panel("A1", 3, T_FULL, A1_SA_OUT_LO, A1_SA_OUT_HI, A1_SA_IN_LO, A1_SA_IN_HI, A1_SA_RED_T, A1_SA_RED, A1_SA_BLUE_T, A1_SA_BLUE, False)
std_panel("A1", 4, T_FULL, A1_EXP2_OUT_LO, A1_EXP2_OUT_HI, A1_EXP2_IN_LO, A1_EXP2_IN_HI, A1_EXP2_RED_T, A1_EXP2_RED, A1_EXP2_BLUE_T, A1_EXP2_BLUE, False)
roi_panel("A1", 5, T_FULL, A1_ROI1_OUT_LO, A1_ROI1_OUT_HI, A1_ROI1_IN_LO, A1_ROI1_IN_HI, T2_FULL, A1_ROI1_PINK, False)
roi_panel("A1", 6, T_FULL, A1_ROI2_OUT_LO, A1_ROI2_OUT_HI, A1_ROI2_IN_LO, A1_ROI2_IN_HI, T2_FULL, A1_ROI2_PINK, False)
mt_panel("A1", 7, T_FULL, A1_MT_OUT_LO, A1_MT_OUT_HI, A1_MT_IN_LO, A1_MT_IN_HI, T2_FULL, A1_MT_RED, A1_MT_BLUE_T, A1_MT_BLUE, False)

# ----- Panel A row 2 -----
std_panel("A2", 1, T_CUT, A2_P3_OUT_LO, A2_P3_OUT_HI, A2_P3_IN_LO, A2_P3_IN_HI, A2_P3_RED_T, A2_P3_RED, A2_P3_BLUE_T, A2_P3_BLUE, True)
std_panel("A2", 2, T_CUT, A2_P3_OUT_LO, A2_P3_OUT_HI, A2_P3_IN_LO, A2_P3_IN_HI, A2_P3_RED_T, A2_P3_RED, A2_P3_BLUE_T, A2_P3_BLUE, True)
std_panel("A2", 3, T_CUT, A2_SA_OUT_LO, A2_SA_OUT_HI, A2_SA_IN_LO, A2_SA_IN_HI, A2_SA_RED_T, A2_SA_RED, A2_SA_BLUE_T, A2_SA_BLUE, True)
std_panel("A2", 4, T_CUT, A2_EXP2_OUT_LO, A2_EXP2_OUT_HI, A2_EXP2_IN_LO, A2_EXP2_IN_HI, A2_EXP2_RED_T, A2_EXP2_RED, A2_EXP2_BLUE_T, A2_EXP2_BLUE, True)
roi_panel("A2", 5, T_CUT, A2_ROI1_OUT_LO, A2_ROI1_OUT_HI, A2_ROI1_IN_LO, A2_ROI1_IN_HI, T2_CUT, A2_ROI1_PINK, True)
roi_panel("A2", 6, T_CUT, A2_ROI2_OUT_LO, A2_ROI2_OUT_HI, A2_ROI2_IN_LO, A2_ROI2_IN_HI, T2_CUT, A2_ROI2_PINK, True)
mt_panel("A2", 7, T_CUT, A2_MT_OUT_LO, A2_MT_OUT_HI, A2_MT_IN_LO, A2_MT_IN_HI, T2_CUT, A2_MT_RED, A2_MT_BLUE_T, A2_MT_BLUE, True)

# ----- Panel B row 1 -----
s = new_axis("B1", 0, [0, 50], [0, 10, 20, 30, 40, 50], None)
for subj in B_BD_SUBJECTS:
    line(s, B_BD_T, subj, "#d4d4d4", 1)
line(s, B_BD_T10, B_BD_RED, C_RED, 2.2)
line(s, B_BD_T10, B_BD_BLUE, C_BLUE, 1.8)
std_panel("B1", 1, T_FULL, B1_P3_OUT_LO, B1_P3_OUT_HI, B1_P3_IN_LO, B1_P3_IN_HI, B1_P3_RED_T, B1_P3_RED, B1_P3_BLUE_T, B1_P3_BLUE, False)
std_panel("B1", 2, T_FULL, B1_P3_OUT_LO, B1_P3_OUT_HI, B1_P3_IN_LO, B1_P3_IN_HI, B1_P3_RED_T, B1_P3_RED, B1_P3_BLUE_T, B1_P3_BLUE, False)
std_panel("B1", 3, T_FULL, B1_SA_OUT_LO, B1_SA_OUT_HI, B1_SA_IN_LO, B1_SA_IN_HI, B1_SA_RED_T, B1_SA_RED, B1_SA_BLUE_T, B1_SA_BLUE, False)
std_panel("B1", 4, T_FULL, B1_EXP2_OUT_LO, B1_EXP2_OUT_HI, B1_EXP2_IN_LO, B1_EXP2_IN_HI, B1_EXP2_RED_T, B1_EXP2_RED, B1_EXP2_BLUE_T, B1_EXP2_BLUE, False)
roi_panel("B1", 5, T_FULL, B1_ROI3_OUT_LO, B1_ROI3_OUT_HI, B1_ROI3_IN_LO, B1_ROI3_IN_HI, T2_FULL, B1_ROI3_PINK, False)
roi_panel("B1", 6, T_FULL, B1_ROI4_OUT_LO, B1_ROI4_OUT_HI, B1_ROI4_IN_LO, B1_ROI4_IN_HI, T2_FULL, B1_ROI4_PINK, False)
mt_panel("B1", 7, T_FULL, B1_MT_OUT_LO, B1_MT_OUT_HI, B1_MT_IN_LO, B1_MT_IN_HI, T3_FULL, B1_MT_RED, B1_MT_BLUE_T, B1_MT_BLUE, False)

# ----- Panel B row 2 -----
std_panel("B2", 1, T_CUT, B2_P3_OUT_LO, B2_P3_OUT_HI, B2_P3_IN_LO, B2_P3_IN_HI, B2_P3_RED_T, B2_P3_RED, B2_P3_BLUE_T, B2_P3_BLUE, True)
std_panel("B2", 2, T_CUT, B2_P3_OUT_LO, B2_P3_OUT_HI, B2_P3_IN_LO, B2_P3_IN_HI, B2_P3_RED_T, B2_P3_RED, B2_P3_BLUE_T, B2_P3_BLUE, True)
std_panel("B2", 3, T_CUT, B2_SA_OUT_LO, B2_SA_OUT_HI, B2_SA_IN_LO, B2_SA_IN_HI, B2_SA_RED_T, B2_SA_RED, B2_SA_BLUE_T, B2_SA_BLUE, True)
std_panel("B2", 4, T_CUT, B2_EXP2_OUT_LO, B2_EXP2_OUT_HI, B2_EXP2_IN_LO, B2_EXP2_IN_HI, B2_EXP2_RED_T, B2_EXP2_RED, B2_EXP2_BLUE_T, B2_EXP2_BLUE, True)
roi_panel("B2", 5, T_CUT, B2_ROI3_OUT_LO, B2_ROI3_OUT_HI, B2_ROI3_IN_LO, B2_ROI3_IN_HI, T2_CUT, B2_ROI3_PINK, True)
roi_panel("B2", 6, T_CUT, B2_ROI4_OUT_LO, B2_ROI4_OUT_HI, B2_ROI4_IN_LO, B2_ROI4_IN_HI, T2_CUT, B2_ROI4_PINK, True)
mt_panel("B2", 7, T_CUT, B2_MT_OUT_LO, B2_MT_OUT_HI, B2_MT_IN_LO, B2_MT_IN_HI, T2_CUT, B2_MT_RED, B2_MT_BLUE_T, B2_MT_BLUE, True)


# ---------------- text ----------------
def ann(text, x, y, size, color="#222222", xanchor="center", yanchor="middle", **kw):
    annotations.append(dict(text=text, x=px(x), y=py(y), xref="paper", yref="paper",
                            xanchor=xanchor, yanchor=yanchor, showarrow=False,
                            font=dict(family=FONT, size=size, color=color), **kw))


ann("<b>A)</b>", 2, 11, 15, "#111111", xanchor="left")
ann("<b>B)</b>", 2, 486, 15, "#111111", xanchor="left")
ann("Constant Infusion", 386, 20, 16.5)
ann("Bolus-plus-constant Infusion", 387, 495, 16.5)

for titles, ytitle in ((TITLES_A, 44), (TITLES_B, 518)):
    for c, ttl in enumerate(titles):
        l, r = col_x(c)
        ann(ttl, (l + r) / 2 + (2 if c == 0 else 0), ytitle, 13.5)

ann("Activity<br>(kBq/cc)", 28, 140, 13, textangle=-90)
ann("Activity<br>(kBq/cc)", 29, 617, 13, textangle=-90)

ann("Time (min)", 414, 448, 13)
ann("Time (min)", 415, 922, 13)

ann("<i>10 min excluded</i>", 142, 248, 10, "#222222", xanchor="left")
ann("<i>10 min excluded</i>", 143, 725, 10, "#222222", xanchor="left")

LEGEND_LINES = [("Subject", "#a8a8a8", 0), ("Cross-subject", "#ff2020", 18), ("mean (whole", "#ff2020", 31.5),
                ("brain)", "#ff2020", 45), ("Cross-subject", "#f7a3a3", 62), ("mean (single", "#f7a3a3", 75.5),
                ("parcel)", "#f7a3a3", 89), ("Simulated", "#4a88ee", 106)]
for base in (293, 771):
    for txt, colr, dy in LEGEND_LINES:
        ann(txt, 48, base + dy, 11.5, colr, xanchor="left")

# bracket above first excluded window
for top in (ROWS["A2"][0], ROWS["B2"][0]):
    l, _ = col_x(1)
    r = l + 64 * 10 / 90
    path = (f"M {px(l)},{py(top - 1)} L {px(l)},{py(top - 5)} L {px(r)},{py(top - 5)} L {px(r)},{py(top - 1)} "
            f"M {px((l + r) / 2)},{py(top - 5)} L {px((l + r) / 2)},{py(top - 10)}")
    shapes.append(dict(type="path", xref="paper", yref="paper", path=path,
                       line=dict(color="#555555", width=1)))

fig.update_layout(
    template="none",
    width=W, height=H, margin=dict(l=0, r=0, t=0, b=0, pad=0), autosize=False,
    paper_bgcolor="white", plot_bgcolor="white", showlegend=False,
    shapes=shapes, annotations=annotations, font=dict(family=FONT), **layout,
)

fig.write_html("out.html", config={"displayModeBar": False},
               post_script="document.body.style.margin='0px';document.body.style.overflow='hidden';")
